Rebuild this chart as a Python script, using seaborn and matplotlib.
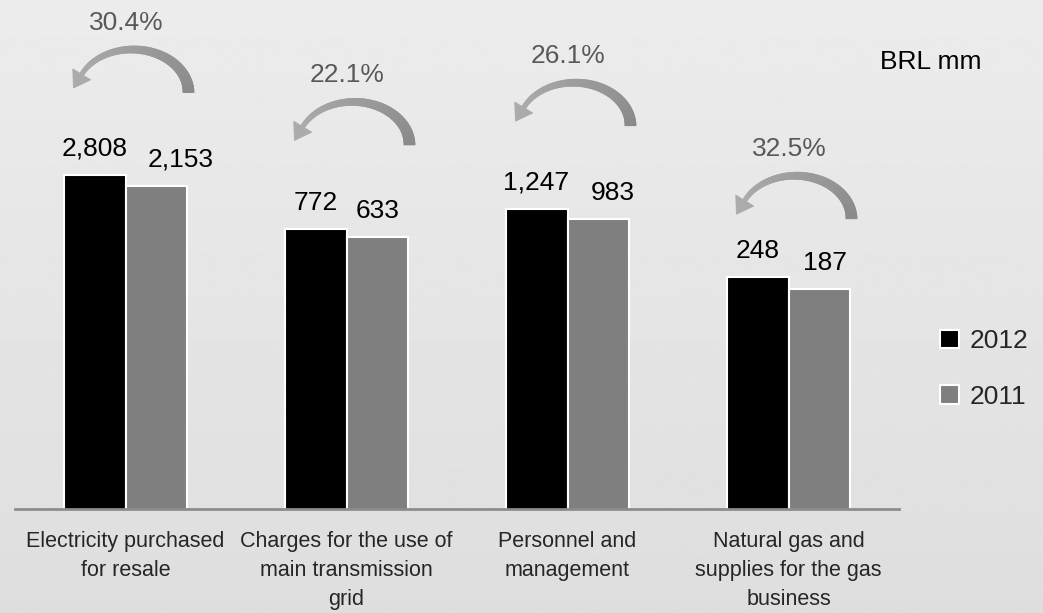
import numpy as np
import pandas as pd
import matplotlib
matplotlib.use("Agg")
import matplotlib.pyplot as plt
import seaborn as sns
from matplotlib.collections import PolyCollection
from matplotlib.patches import Polygon

# Operating costs by item, BRL million
categories = [
    "Electricity purchased\nfor resale",
    "Charges for the use of\nmain transmission\ngrid",
    "Personnel and\nmanagement",
    "Natural gas and\nsupplies for the gas\nbusiness",
]
years = ["2012", "2011"]
values_2012 = [2808, 772, 1247, 248]
values_2011 = [2153, 633, 983, 187]
growth_labels = ["30.4%", "22.1%", "26.1%", "32.5%"]

# vertical room (px) between the 2012 bar top and the growth arrow of each group
arrow_gap_px = [82, 84, 83, 58]
# sideways nudge (px) of the 2011 value labels so they clear their neighbours
label_nudge_2011_px = [24, 0, 14, 6]

sns.set_theme(style="white")
plt.rcParams["font.family"] = ["Liberation Sans", "DejaVu Sans"]

W, H = 1043, 613
fig = plt.figure(figsize=(W / 100, H / 100), dpi=100)
fig.patch.set_facecolor("#e6e6e6")

# soft light-grey vertical gradient behind everything
bg = fig.add_axes([0, 0, 1, 1], zorder=-10)
grad = np.linspace(0.925, 0.870, 256).reshape(-1, 1)
bg.imshow(grad, cmap="gray", vmin=0, vmax=1, aspect="auto", extent=(0, 1, 0, 1))
bg.set_axis_off()

ax = fig.add_axes([15 / W, (H - 509) / H, 884 / W, 504 / H])
ax.patch.set_alpha(0)

df = pd.DataFrame({
    "category": categories * 2,
    "year": [years[0]] * len(categories) + [years[1]] * len(categories),
    "value": values_2012 + values_2011,
})

sns.barplot(
    data=df, x="category", y="value", hue="year", hue_order=years,
    palette=["#000000", "#7f7f7f"], width=0.56, gap=0,
    edgecolor="white", linewidth=1.5, errorbar=None, ax=ax,
)
ax.set_yscale("log")
ax.set_ylim(1, 10 ** (504 / 97))
ax.set_xlim(-0.5, len(categories) - 0.5)

for side in ["left", "right", "top"]:
    ax.spines[side].set_visible(False)
ax.spines["bottom"].set_color("#8c8c8c")
ax.spines["bottom"].set_linewidth(2)
ax.set_yticks([])
ax.yaxis.set_minor_locator(matplotlib.ticker.NullLocator())
ax.set_xlabel("")
ax.set_ylabel("")
ax.tick_params(axis="x", length=0, pad=16, labelsize=15.5)
for lbl in ax.get_xticklabels():
    lbl.set_linespacing(1.5)

for j, cont in enumerate(ax.containers):
    anns = ax.bar_label(cont, labels=[f"{v:,.0f}" for v in cont.datavalues],
                        padding=10, fontsize=19, color="black")
    if j == 1:
        for ann, dx in zip(anns, label_nudge_2011_px):
            ann.xyann = (dx * 0.72, 10)

# legend on the right
handles, labels = ax.get_legend_handles_labels()
if ax.legend_ is not None:
    ax.legend_.remove()
fig.legend(handles, labels, loc="center left",
           bbox_to_anchor=(927 / W, 1 - 369 / H), frameon=False,
           fontsize=19, handlelength=0.7, handleheight=0.7,
           handletextpad=0.4, labelspacing=1.2, borderpad=0)

fig.text(880 / W, 1 - 62 / H, "BRL mm", fontsize=19, va="center", ha="left",
         color="black")

# overlay in pixel coordinates for the curved growth arrows
ov = fig.add_axes([0, 0, 1, 1], zorder=5)
ov.set_xlim(0, W)
ov.set_ylim(H, 0)
ov.set_axis_off()
ov.patch.set_alpha(0)


def curved_arrow(axo, cx, cy, a=56, b=43, t_end=np.deg2rad(155),
                 w0=11, w1=4, head_w=21, head_len=16,
                 c_right=0.54, c_left=0.67):
    t = np.linspace(0, t_end, 160)
    x = cx + a * np.cos(t)
    y = cy - b * np.sin(t)
    dx = -a * np.sin(t)
    dy = -b * np.cos(t)
    n = np.hypot(dx, dy)
    tx, ty = dx / n, dy / n
    nx, ny = -ty, tx
    w = np.linspace(w0, w1, len(t))
    xo, yo = x + nx * w / 2, y + ny * w / 2
    xi, yi = x - nx * w / 2, y - ny * w / 2
    quads = [[(xo[k], yo[k]), (xo[k + 1], yo[k + 1]),
              (xi[k + 1], yi[k + 1]), (xi[k], yi[k])] for k in range(len(t) - 1)]
    g = np.linspace(c_right, c_left, len(quads))
    cols = [(v, v, v) for v in g]
    axo.add_collection(PolyCollection(quads, facecolors=cols, edgecolors=cols,
                                      linewidths=0.6))
    bx, by = x[-1], y[-1]
    head = [
        (bx + nx[-1] * head_w / 2, by + ny[-1] * head_w / 2),
        (bx + tx[-1] * head_len, by + ty[-1] * head_len),
        (bx - nx[-1] * head_w / 2, by - ny[-1] * head_w / 2),
    ]
    axo.add_patch(Polygon(head, closed=True, facecolor=(c_left,) * 3,
                          edgecolor=(c_left,) * 3, linewidth=0.6))


fig.canvas.draw()
bar_w = 0.56 / 2
for i, (v, lab) in enumerate(zip(values_2012, growth_labels)):
    gx = ax.transData.transform((i, 1))[0]
    top_y = H - ax.transData.transform((i - bar_w / 2, v))[1]
    base_y = top_y - arrow_gap_px[i]
    curved_arrow(ov, gx + 7, base_y)
    ov.text(gx + 1, base_y - 70, lab, fontsize=19, color="#595959",
            ha="center", va="center")

fig.savefig("out.png", dpi=100, facecolor=fig.get_facecolor())
